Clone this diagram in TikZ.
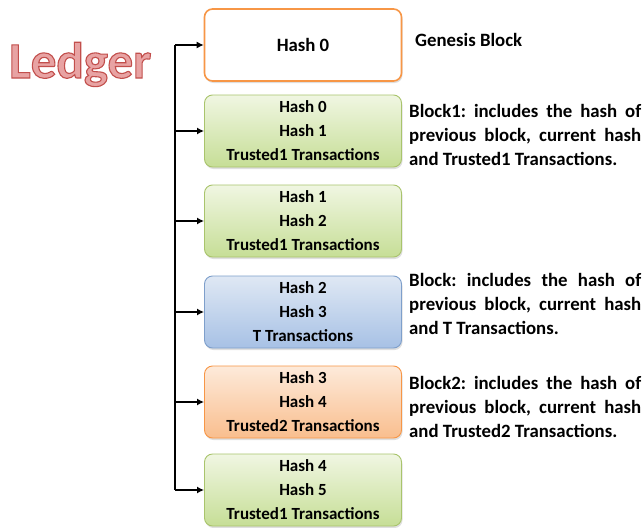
\documentclass[tikz,border=0pt]{standalone}
\usepackage{fontspec}
\setmainfont{Carlito}
\usetikzlibrary{arrows.meta,shadows}
\definecolor{orb}{HTML}{F79646}
\definecolor{grb}{HTML}{A9C46C}
\definecolor{grt}{HTML}{F0F6E2}
\definecolor{grbt}{HTML}{C6DE96}
\definecolor{blb}{HTML}{7E9FCB}
\definecolor{blt}{HTML}{DFE8F4}
\definecolor{blbt}{HTML}{A7C1E5}
\definecolor{ort}{HTML}{FDEADA}
\definecolor{orbt}{HTML}{F9BE8E}
\definecolor{ledgfill}{HTML}{E8A3A3}
\frenchspacing
\tikzset{
  blk/.style={rectangle, rounded corners=8pt, minimum width=197pt, minimum height=72pt,
    align=center, font=\fontsize{17}{24}\selectfont\bfseries, inner sep=0pt,
    drop shadow={opacity=0.25, shadow xshift=1pt, shadow yshift=-2pt}},
  greenblk/.style={blk, draw=grb, line width=0.9pt, top color=grt, bottom color=grbt},
  blueblk/.style={blk, draw=blb, line width=0.9pt, top color=blt, bottom color=blbt},
  orangeblk/.style={blk, draw=orb, line width=0.9pt, top color=ort, bottom color=orbt},
  genblk/.style={blk, draw=orb, line width=1.6pt, fill=white, font=\fontsize{18.8}{24}\selectfont\bfseries},
  desc/.style={anchor=base west, inner sep=0pt, align=left,
    font=\fontsize{18.8}{24}\selectfont\bfseries},
  spineline/.style={line width=2.4pt, black},
  arr/.style={line width=2.4pt, black, -{Latex[length=7pt,width=7pt]}},
}
\newcommand{\jline}[1]{\makebox[232pt][s]{#1}}
\begin{document}
\begin{tikzpicture}[x=1pt,y=-1pt]
\path[use as bounding box, fill=white] (0,0) rectangle (644,527);
% Ledger title
\node[anchor=base west, inner sep=0pt, text=ledgfill,
  font=\fontsize{51}{51}\selectfont\bfseries] (ledger) at (9,78)
  {\special{pdf:literal 2 Tr 1.1 w 0.76 0.31 0.30 RG}Ledger\special{pdf:literal 0 Tr}};
% blocks
\node[genblk] (b0) at (303,45) {Hash 0};
\node[greenblk] (b1) at (303,131) {Hash 0\\Hash 1\\Trusted1 Transactions};
\node[greenblk] (b2) at (303,221) {Hash 1\\Hash 2\\Trusted1 Transactions};
\node[blueblk] (b3) at (303,312) {Hash 2\\Hash 3\\T Transactions};
\node[orangeblk] (b4) at (303,402) {Hash 3\\Hash 4\\Trusted2 Transactions};
\node[greenblk] (b5) at (303,490) {Hash 4\\Hash 5\\Trusted1 Transactions};
% spine and arrows
\coordinate (spine) at (175,0);
\draw[spineline] (b0.west -| spine) -- (b5.west -| spine);
\foreach \i in {0,...,5} {\draw[arr] (b\i.west -| spine) -- (b\i.west);}
% descriptions
\node[anchor=base west, inner sep=0pt, font=\fontsize{18.8}{24}\selectfont\bfseries] (g0) at (415,47) {Genesis Block};
\node[desc] (d1) at (409,165) {\jline{Block1: includes the hash of}\\\jline{previous block, current hash}\\and Trusted1 Transactions.};
\node[desc] (d3) at (409,334) {\jline{Block: includes the hash of}\\\jline{previous block, current hash}\\and T Transactions.};
\node[desc] (d4) at (409,437) {\jline{Block2: includes the hash of}\\\jline{previous block, current hash}\\and Trusted2 Transactions.};
\end{tikzpicture}
\end{document}
